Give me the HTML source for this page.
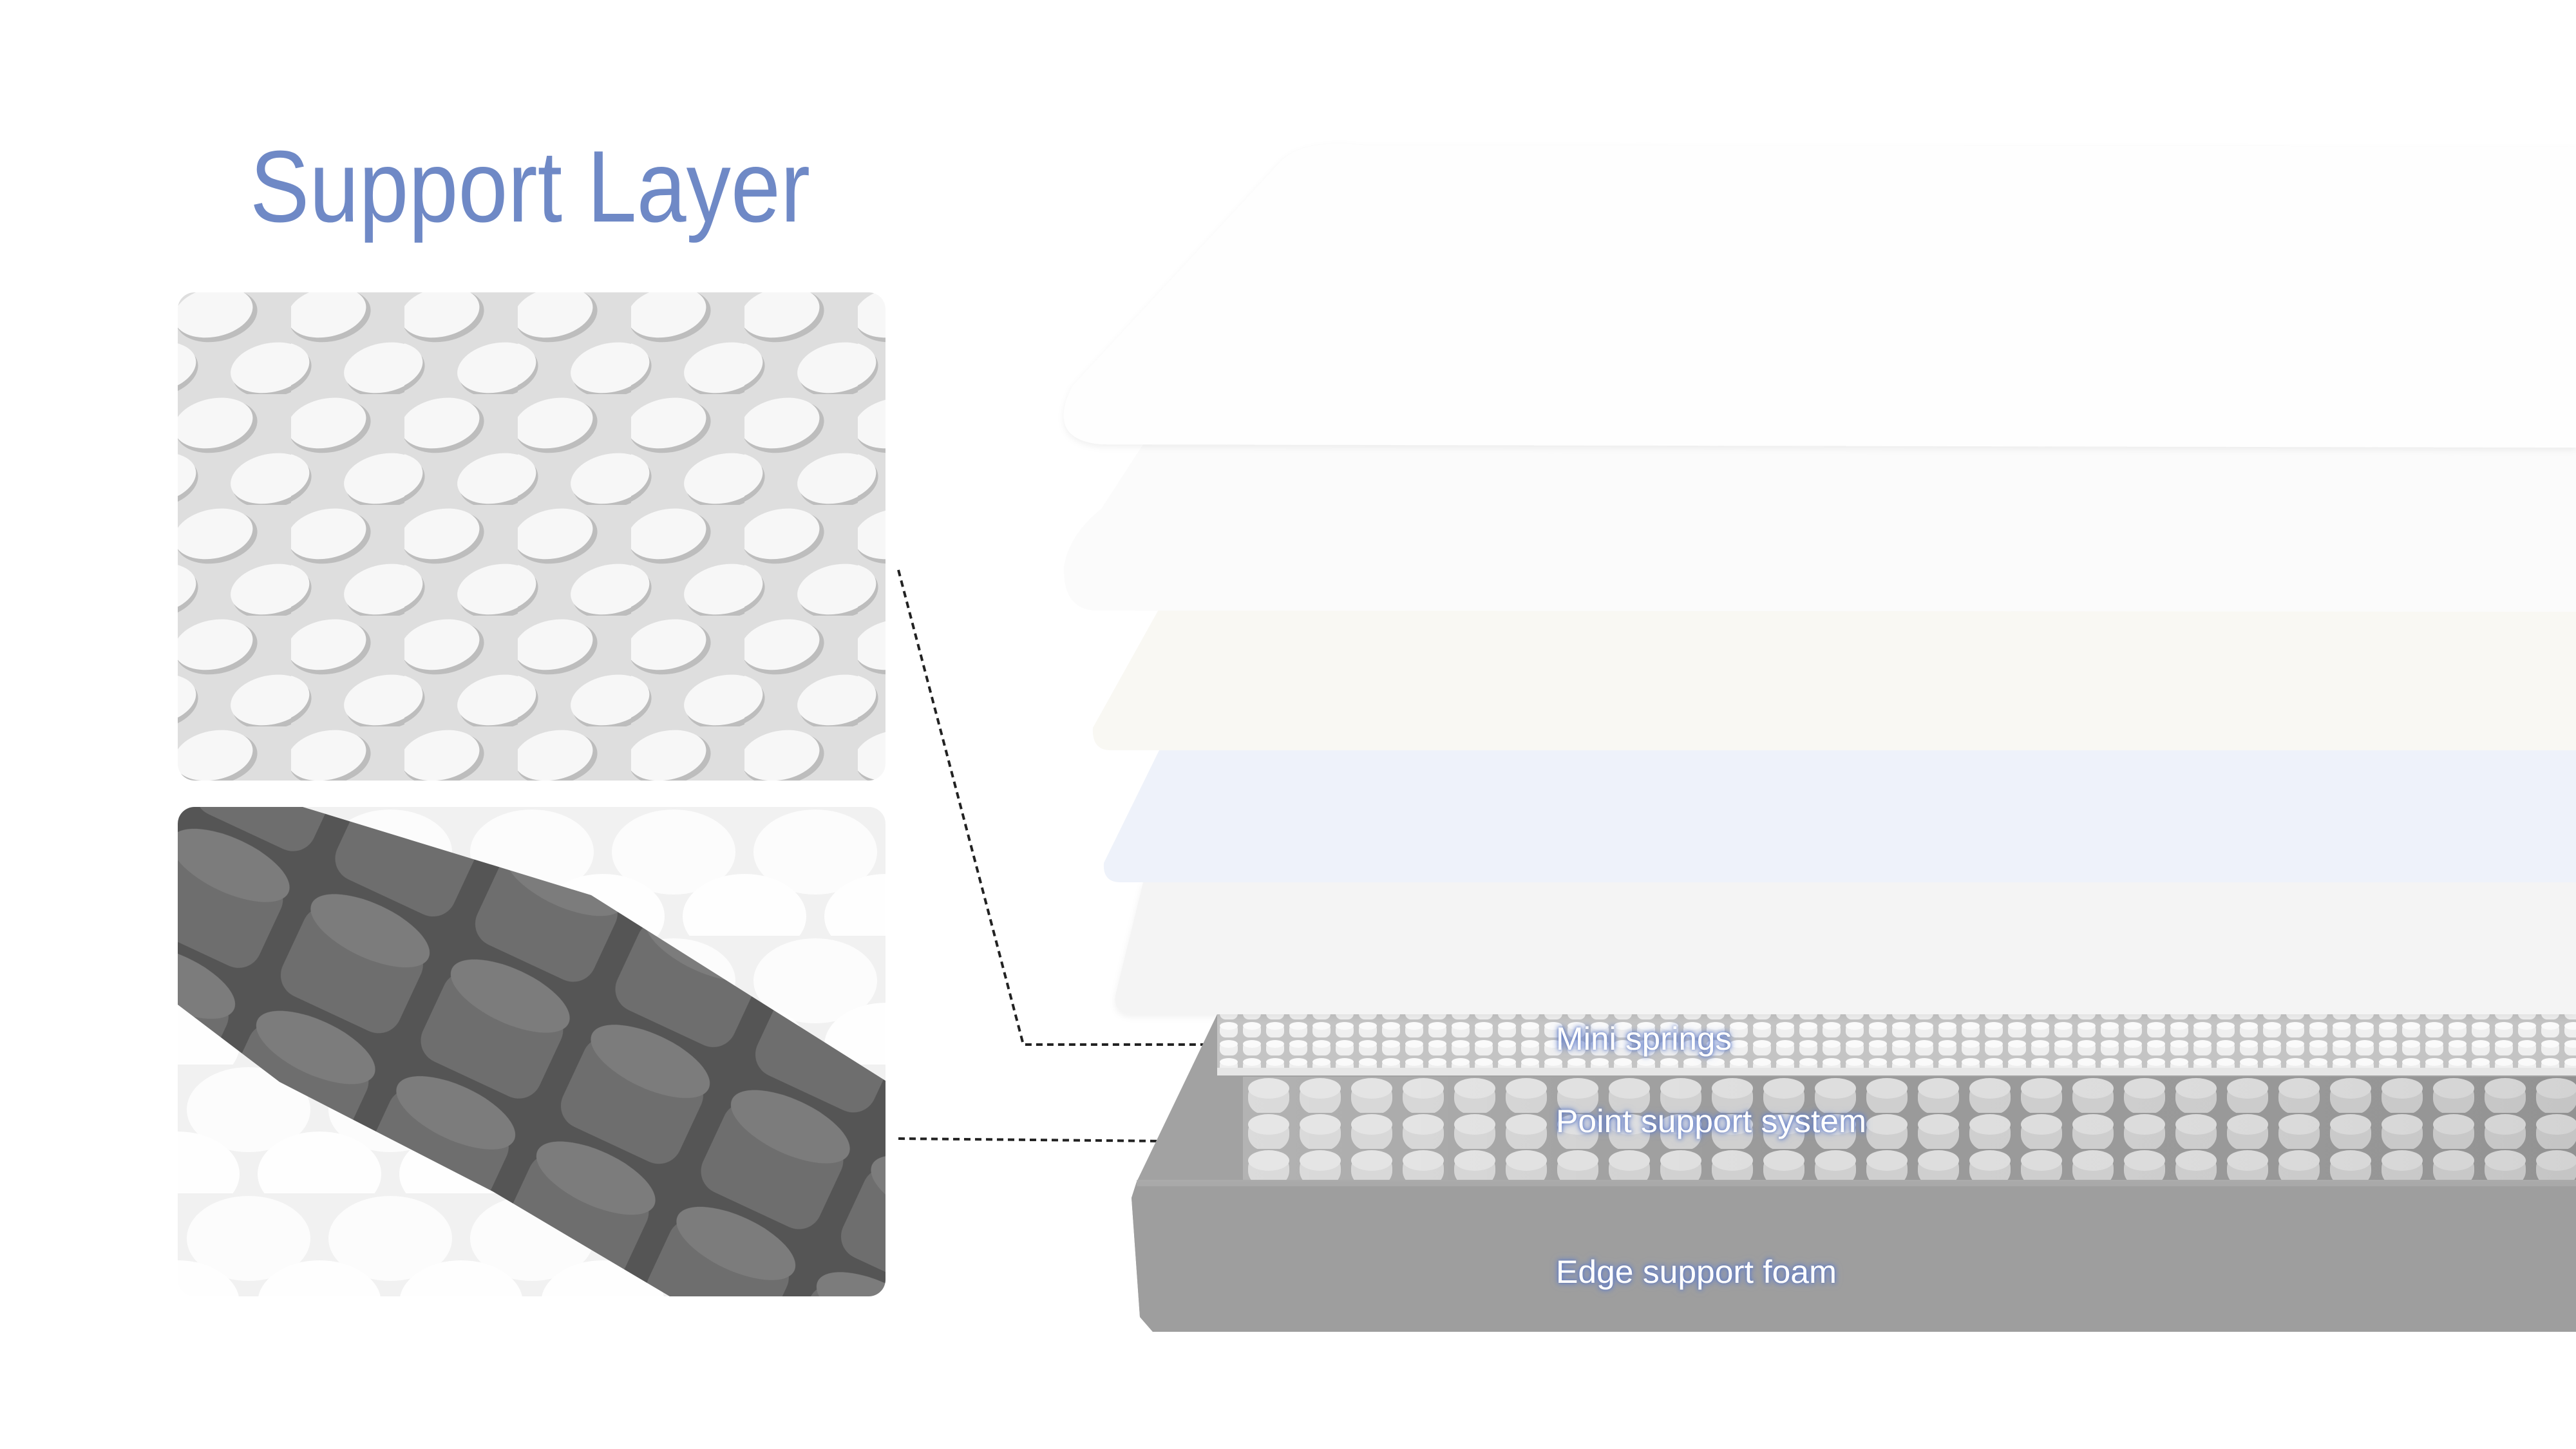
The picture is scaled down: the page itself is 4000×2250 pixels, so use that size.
<!DOCTYPE html>
<html><head><meta charset="utf-8"><style>
html,body{margin:0;padding:0;background:#fff;width:4000px;height:2250px;overflow:hidden}
svg{display:block}
</style></head><body>
<svg width="4000" height="2250" viewBox="0 0 4000 2250" xmlns="http://www.w3.org/2000/svg">
<defs>
  <filter id="glow" x="-10%" y="-40%" width="120%" height="180%">
    <feDropShadow dx="0" dy="0" stdDeviation="3" flood-color="#4f6fc0" flood-opacity="1" result="a"/>
    <feDropShadow in="a" dx="0" dy="0" stdDeviation="5" flood-color="#6f89d0" flood-opacity="0.8"/>
  </filter>
  <filter id="soft" x="-5%" y="-5%" width="110%" height="115%">
    <feDropShadow dx="0" dy="4" stdDeviation="5" flood-color="#000" flood-opacity="0.06"/>
  </filter>
  <clipPath id="c1"><rect x="276" y="454" width="1099" height="758" rx="26"/></clipPath>
  <clipPath id="c2"><rect x="276" y="1253" width="1099" height="760" rx="26"/></clipPath>
  <pattern id="ov" x="276" y="440" width="176" height="172" patternUnits="userSpaceOnUse">
    <rect width="176" height="172" fill="#dedede"/>
    <g transform="rotate(-12 60 48)"><ellipse cx="60" cy="50" rx="64" ry="40" fill="#bdbdbd"/><ellipse cx="56" cy="44" rx="62" ry="38" fill="#f7f7f7"/></g>
    <g transform="rotate(-12 148 134)"><ellipse cx="148" cy="136" rx="64" ry="40" fill="#bdbdbd"/><ellipse cx="144" cy="130" rx="62" ry="38" fill="#f7f7f7"/></g>
    <g transform="rotate(-12 -32 134)"><ellipse cx="-32" cy="136" rx="64" ry="40" fill="#bdbdbd"/><ellipse cx="-32" cy="130" rx="62" ry="38" fill="#f7f7f7"/></g>
  </pattern>
  <pattern id="wc" x="276" y="1253" width="220" height="200" patternUnits="userSpaceOnUse">
    <rect width="220" height="200" fill="#f1f1f1"/>
    <ellipse cx="110" cy="70" rx="96" ry="66" fill="#fcfcfc"/>
    <ellipse cx="0" cy="170" rx="96" ry="66" fill="#fefefe"/>
    <ellipse cx="220" cy="170" rx="96" ry="66" fill="#fefefe"/>
  </pattern>
  <pattern id="dc" x="276" y="1253" width="240" height="200" patternUnits="userSpaceOnUse" patternTransform="rotate(25 276 1253)">
    <rect width="240" height="200" fill="#555"/>
    <rect x="12" y="40" width="200" height="150" rx="36" fill="#6e6e6e"/>
    <ellipse cx="112" cy="48" rx="100" ry="42" fill="#7c7c7c"/>
  </pattern>
  <pattern id="ms" x="1890" y="1585" width="36" height="28" patternUnits="userSpaceOnUse">
    <rect width="36" height="28" fill="#c4c4c4"/>
    <rect x="4" y="4" width="28" height="22" rx="9" fill="#efefef"/>
    <ellipse cx="18" cy="8" rx="14" ry="6" fill="#fafafa"/>
  </pattern>
  <pattern id="ps" x="1930" y="1672" width="80" height="56" patternUnits="userSpaceOnUse">
    <rect width="80" height="56" fill="#9a9a9a"/>
    <rect x="8" y="6" width="64" height="52" rx="24" fill="#cfcfcf"/>
    <ellipse cx="40" cy="18" rx="32" ry="16" fill="#dedede"/>
  </pattern>
  <linearGradient id="psfade" x1="0" x2="1" y1="0" y2="0">
    <stop offset="0" stop-color="#fff" stop-opacity="0.25"/>
    <stop offset="0.4" stop-color="#fff" stop-opacity="0"/>
    <stop offset="1" stop-color="#000" stop-opacity="0.05"/>
  </linearGradient>
</defs>

<text x="388" y="344" font-family="Liberation Sans, sans-serif" font-size="158" fill="#6f89c6" textLength="870" lengthAdjust="spacingAndGlyphs">Support Layer</text>

<g clip-path="url(#c1)">
  <rect x="276" y="454" width="1099" height="758" fill="url(#ov)"/>
</g>
<g clip-path="url(#c2)">
  <rect x="276" y="1253" width="1099" height="760" fill="url(#wc)"/>
  <polygon points="276,1253 470,1253 918,1390 1378,1680 1378,2013 1040,2013 765,1850 434,1680 276,1560" fill="url(#dc)"/>
</g>

<polyline points="1395,885 1589,1622 1888,1622" fill="none" stroke="#222" stroke-width="4" stroke-dasharray="10,7"/>
<polyline points="1395,1768 1918,1773" fill="none" stroke="#222" stroke-width="4" stroke-dasharray="10,7"/>

<polygon points="1890,1575 4000,1575 4000,2068 1790,2068 1770,2045 1757,1860 1765,1835" fill="#a2a2a2"/>
<polygon points="1765,1835 4000,1835 4000,2068 1790,2068 1770,2045 1757,1860" fill="#9e9e9e"/>
<rect x="1765" y="1832" width="2235" height="10" fill="#b0b0b0" opacity="0.6"/>
<rect x="1930" y="1672" width="2070" height="160" fill="url(#ps)"/>
<rect x="1930" y="1672" width="2070" height="160" fill="url(#psfade)"/>
<rect x="1890" y="1575" width="2110" height="95" fill="url(#ms)"/>
<rect x="1890" y="1658" width="2110" height="12" fill="#e6e6e6"/>

<path d="M1775,1370 L4000,1370 L4000,1575 L1760,1575 Q1728,1575 1732,1545 Z" fill="#f4f4f4" filter="url(#soft)"/>
<path d="M1800,1165 L4000,1165 L4000,1370 L1740,1370 Q1712,1370 1714,1340 Z" fill="#eef2fa"/>
<path d="M1800,945 L4000,945 L4000,1165 L1725,1165 Q1695,1165 1697,1130 Z" fill="#f9f8f3"/>
<path d="M1775,690 L4000,690 L4000,950 L1700,948 Q1650,945 1652,880 Q1660,830 1710,790 Z" fill="#fbfbfb"/>
<path d="M2020,232 Q2060,218 2120,226 L4000,228 L4000,695 L1710,690 Q1655,685 1652,650 Q1650,630 1665,600 L1985,255 Q2000,238 2020,232 Z" fill="#fefefe" filter="url(#soft)"/>

<g font-family="Liberation Sans, sans-serif" font-size="50" fill="#ffffff" filter="url(#glow)">
  <text x="2416" y="1630" textLength="273" lengthAdjust="spacingAndGlyphs">Mini springs</text>
  <text x="2416" y="1758" textLength="482" lengthAdjust="spacingAndGlyphs">Point support system</text>
  <text x="2416" y="1992" textLength="436" lengthAdjust="spacingAndGlyphs">Edge support foam</text>
</g>
</svg>
</body></html>
